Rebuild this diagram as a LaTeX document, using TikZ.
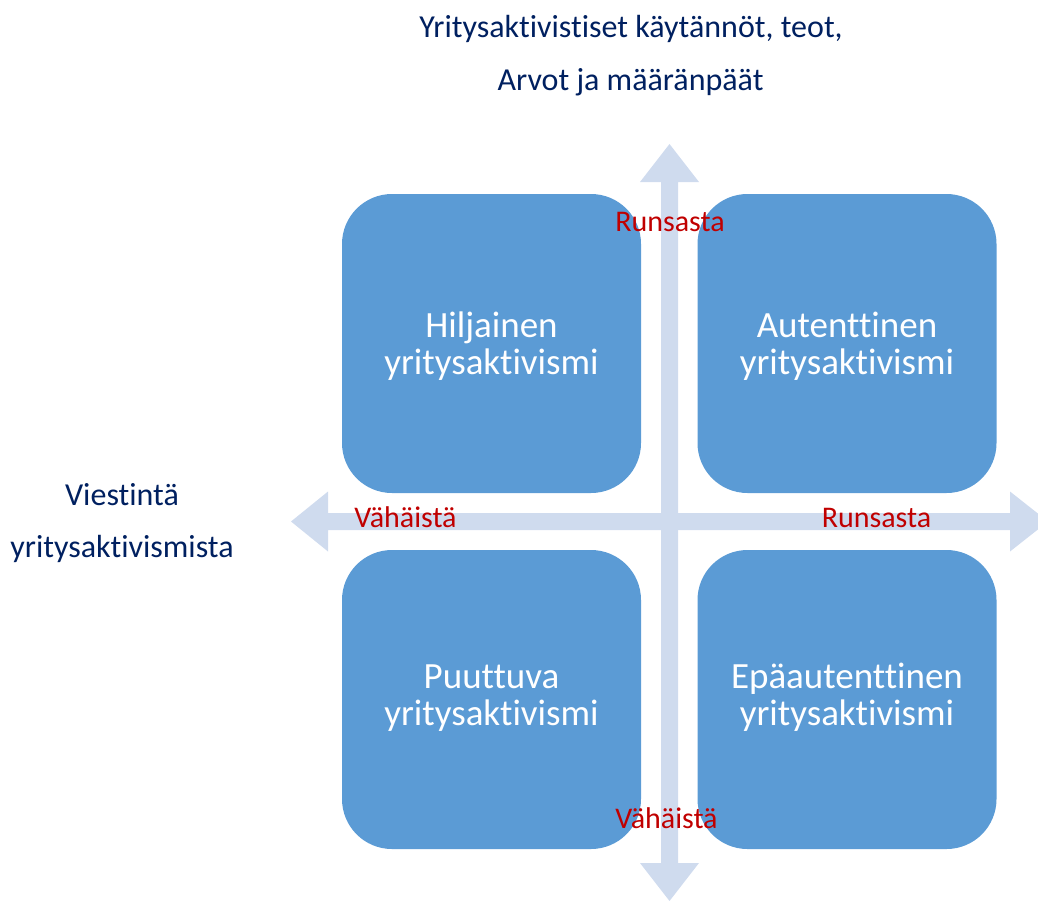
\documentclass[tikz,border=0pt]{standalone}
\usepackage{fontspec}
\setmainfont{Carlito}[Ligatures={NoCommon,NoRare}]
\definecolor{boxblue}{RGB}{91,155,213}
\definecolor{arrowblue}{RGB}{207,219,238}
\definecolor{navytext}{RGB}{0,32,96}
\definecolor{lblred}{RGB}{192,0,0}
\begin{document}
\begin{tikzpicture}[x=1pt,y=-1pt,
  quad/.style={fill=boxblue,draw=none,rounded corners=50pt,minimum width=299pt,minimum height=299pt,inner sep=0pt,outer sep=0pt},
  quadtext/.style={anchor=base,text=white,font=\fontsize{37}{37}\selectfont,inner sep=0pt},
  axistext/.style={anchor=base,text=navytext,font=\fontsize{32}{32}\selectfont,inner sep=0pt},
  scaletext/.style={anchor=base,text=lblred,font=\fontsize{30}{30}\selectfont,inner sep=0pt},
  axisarrow/.style={fill=arrowblue,draw=none}]
\useasboundingbox (0,0) rectangle (1038,900);
\clip (0,0) rectangle (1038,900);
% axes (block arrows)
\fill[axisarrow] (661,182) -- (640,182) -- (669.5,144) -- (699,182) -- (678,182)
  -- (678,863) -- (699,863) -- (669.5,901) -- (640,863) -- (661,863) -- cycle;
\fill[axisarrow] (328,513) -- (328,491.5) -- (291,521.5) -- (328,551.5) -- (328,530)
  -- (1010,530) -- (1010,551.5) -- (1048,521.5) -- (1010,491.5) -- (1010,513) -- cycle;
% quadrants
\node[quad] (tl) at (491.5,343.5) {};
\node[quad] (tr) at (847,343.5) {};
\node[quad] (bl) at (491.5,699.5) {};
\node[quad] (br) at (847,699.5) {};
\node[quadtext] (tl1) at (491.5,337) {Hiljainen};
\node[quadtext] (tl2) at (491.5,374) {yritysaktivismi};
\node[quadtext] (tr1) at (847,337) {Autenttinen};
\node[quadtext] (tr2) at (847,374) {yritysaktivismi};
\node[quadtext] (bl1) at (491.5,688) {Puuttuva};
\node[quadtext] (bl2) at (491.5,725) {yritysaktivismi};
\node[quadtext] (br1) at (847,688) {Epäautenttinen};
\node[quadtext] (br2) at (847,725) {yritysaktivismi};
% axis titles
\node[axistext] (yt1) at (631,37) {Yritysaktivistiset käytännöt, teot,};
\node[axistext] (yt2) at (630.5,90) {Arvot ja määränpäät};
\node[axistext] (xt1) at (122,505) {Viestintä};
\node[axistext] (xt2) at (122,557) {yritysaktivismista};
% scale labels
\node[scaletext] (ytop) at (670,231) {Runsasta};
\node[scaletext] (ybot) at (666.5,828) {Vähäistä};
\node[scaletext] (xleft) at (405.5,527) {Vähäistä};
\node[scaletext] (xright) at (876.5,527) {Runsasta};
\end{tikzpicture}
\end{document}
